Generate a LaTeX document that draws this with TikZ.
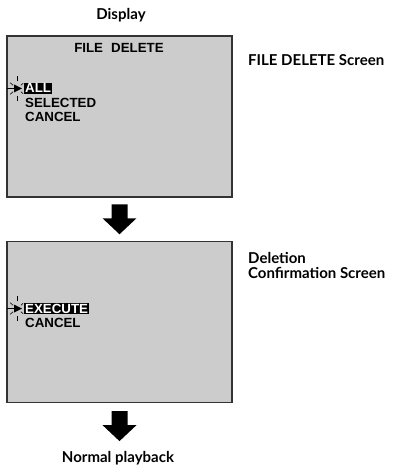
\documentclass[tikz,border=0pt]{standalone}
\usepackage{fontspec}
\setmainfont{Lato}
\newfontfamily\screenfont{Liberation Sans}
\usetikzlibrary{
    positioning,
    calc
}
\tikzset{
    screen/.style={
        draw=black!80,
        line width=1.2pt,
        fill=black!20,
        minimum width=225pt,
        minimum height=161pt,
        inner sep=0pt
    },
    heading/.style={
        font=\bfseries\fontsize{15}{15}\selectfont,
        inner sep=0pt
    },
    menu/.style={
        font=\screenfont\bfseries\fontsize{13.3}{14}\selectfont,
        inner sep=0pt,
        anchor=base west
    },
    chosen/.style={
        menu,
        fill=black,
        text=white,
        inner xsep=1pt,
        inner ysep=1pt
    },
    cursor/.pic={
        \draw[line width=0.8pt] (-10,0) -- (-3,0);
        \fill (-3,-4) -- (5,0) -- (-3,4) -- cycle;
        \foreach \ang/\ra/\rb in {90/7.5/12.5, 270/7.5/12.5, 140/5/9, 220/5/9, 40/5/8, 320/5/8}
            \draw[line width=0.6pt] (\ang:\ra) -- (\ang:\rb);
    }
}

\begin{document}
\begin{tikzpicture}[
    x=1pt,
    y=-1pt
]

    \useasboundingbox (0,0) rectangle (416,470);

    % Pantallas
    \node[screen] (scr1) at (119.5,116.5) {};
    \node[screen] (scr2) at (119.5,322)   {};

    % Titulos
    \node[heading, anchor=base]      (disp)  at (121,20)  {Display};
    \node[heading, anchor=base west] (lbl1)  at (248,66)  {FILE DELETE Screen};
    \node[heading, anchor=base west] (lbl2)  at (248,263) {Deletion};
    \node[heading, anchor=base west] (lbl2b) at (248,278) {Confirmation Screen};
    \node[heading, anchor=base]      (play)  at (118,462) {Normal playback};

    % Menu de la primera pantalla
    \node[menu, anchor=base] (fdel) at (119,53)  {FILE\,\, DELETE};
    \node[chosen] (all)  at (24,93)  {ALL};
    \node[menu]   (sel)  at (25,108) {SELECTED};
    \node[menu]   (can1) at (25,122) {CANCEL};
    \pic at (17,88.5) {cursor};

    % Menu de la segunda pantalla
    \node[chosen] (exe)  at (24,313) {EXECUTE};
    \node[menu]   (can2) at (25,327) {CANCEL};
    \pic at (17,308.5) {cursor};

    % Flechas
    \coordinate (a1) at ($(scr1.south)!0.5!(scr2.north)$);
    \coordinate (a2) at ($(scr2.south)+(0,23)$);
    \foreach \c in {a1,a2}
        \fill (\c) ++(-8,-15) -- ++(16,0) -- ++(0,14) -- ++(9,0)
              -- ++(-17,16) -- ++(-17,-16) -- ++(9,0) -- cycle;

\end{tikzpicture}
\end{document}
